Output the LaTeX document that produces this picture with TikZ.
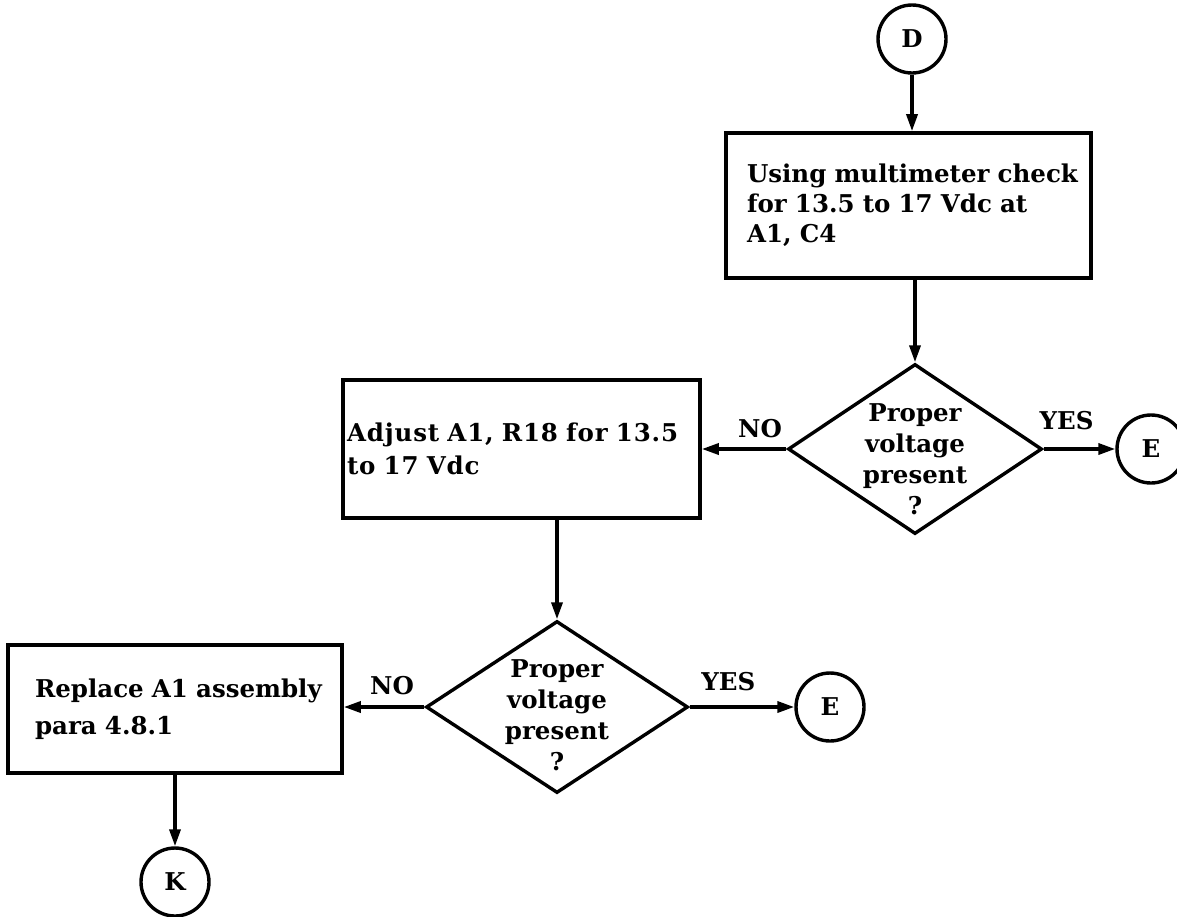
\documentclass[tikz,border=0pt]{standalone}
\usepackage{fontspec}
\setmainfont{DejaVu Serif}
\usetikzlibrary{shapes.geometric,arrows.meta}
\newcommand\loosetext{\addfontfeatures{LetterSpace=3.5}}
\begin{document}
\begin{tikzpicture}[x=1pt,y=-1pt,
  every node/.style={font=\fontsize{24.5}{30}\selectfont\bfseries},
  conn/.style={line width=3.4pt, -{Triangle[length=17pt,width=11pt]}},
  term/.style={circle, draw, line width=3.4pt, minimum size=68pt, inner sep=0pt},
  stepbox/.style={rectangle, draw, line width=3.6pt, align=left, inner ysep=0pt},
  decision/.style={diamond, draw, line width=3.4pt, inner sep=0pt},
  qtext/.style={align=center, inner sep=0pt, font=\fontsize{24.5}{31}\selectfont\bfseries},
  lbl/.style={inner sep=0pt}]

\useasboundingbox (0,0) rectangle (1177,916);

% upper branch
\node[term] (D) at (912,39) {D};
\node[stepbox, minimum width=365pt, minimum height=145pt, text width=323pt, inner xsep=21pt]
  (b1) at (908.5,205.5)
  {\mbox{Using multimeter check}\\\mbox{for 13.5 to 17 Vdc at}\\A1, C4};
\node[decision, minimum width=254pt, minimum height=170pt] (d1) at (915,449) {};
\node[qtext] (q1) at ([yshift=-10pt]d1.center) {Proper\\voltage\\present\\?};
\node[term] (E1) at (1151,449) {E};

% adjustment step, set slightly letterspaced
\node[stepbox, minimum width=357pt, minimum height=138pt, text width=349pt, inner xsep=4pt,
  font=\fontsize{24.5}{33}\selectfont\bfseries\loosetext]
  (b2) at (521.5,449)
  {\mbox{Adjust A1, R18 for 13.5}\\\mbox{to 17 Vdc}};
\node[decision, minimum width=262pt, minimum height=172pt] (d2) at (557,707) {};
\node[qtext] (q2) at ([yshift=-8pt]d2.center) {Proper\\voltage\\present\\?};
\node[term] (E2) at (830,707) {E};

% replacement step
\node[stepbox, minimum width=334pt, minimum height=128pt, text width=280pt, inner xsep=27pt,
  font=\fontsize{24.5}{37}\selectfont\bfseries]
  (b3) at (175,709)
  {\mbox{Replace A1 assembly}\\para 4.8.1};
\node[term] (K) at (175,882) {K};

% connectors
\draw[conn] (D) -- (D |- b1.north);
\draw[conn] (b1.south -| d1.north) -- (d1.north);
\draw[conn] (d1.west) -- node[lbl, pos=.31, above=9pt] {NO} (d1.west -| b2.east);
\draw[conn] (d1.east) -- node[lbl, pos=.32, above=17pt] {YES} (E1);
\draw[conn] (b2.south -| d2.north) -- (d2.north);
\draw[conn] (d2.west) -- node[lbl, pos=.4, above=10pt] {NO} (d2.west -| b3.east);
\draw[conn] (d2.east) -- node[lbl, pos=.37, above=14pt] {YES} (E2);
\draw[conn] (b3) -- (K);
\end{tikzpicture}
\end{document}
